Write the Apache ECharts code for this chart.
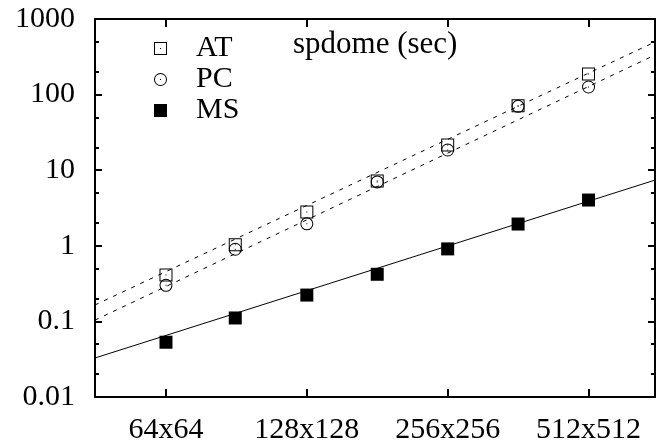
<!DOCTYPE html>
<html>
<head>
<meta charset="utf-8">
<script src="https://cdn.jsdelivr.net/npm/echarts@6/dist/echarts.min.js"></script>
<style>
  html, body { margin: 0; padding: 0; background: #fff; }
  #chart { width: 656px; height: 448px; }
</style>
</head>
<body>
<div id="chart"></div>
<script>
// grid side lengths of each run (x), run time in seconds (y)
const sides = [64, 90, 128, 181, 256, 362, 512];
const tickSides = [64, 128, 256, 512];
const atTimes = [0.41, 1.03, 2.8, 7.2, 21.5, 71, 187];
const pcTimes = [0.30, 0.90, 1.95, 7.0, 18.5, 70, 126];
const msTimes = [0.053, 0.111, 0.223, 0.42, 0.91, 1.94, 4.03];
// fitted lines: value at the left and right edge of the plot
const atFit = [0.165, 497];
const pcFit = [0.104, 334];
const msFit = [0.0328, 7.4];
const minorTicks = [0.02, 0.05, 0.2, 0.5, 2, 5, 20, 50, 200, 500];

const xMin = 5.496;
const xMax = 9.472;
const font = 'Liberation Serif';

const squareIcon = 'path://M0,0H13V13H0Z M1,1V12H12V1Z M6,6H7V7H6Z';
const circleIcon = 'path://M6.5,0A6.5,6.5,0,1,1,6.5,13A6.5,6.5,0,1,1,6.5,0Z M6.5,1A5.5,5.5,0,1,0,6.5,12A5.5,5.5,0,1,0,6.5,1Z M6,6H7V7H6Z';

const black = '#000';
const tickVals = tickSides.map(Math.log2);

function axisLine() {
  return { show: true, onZero: false, lineStyle: { color: black, width: 2 } };
}

function xAxis(position, showLabel) {
  return {
    type: 'value', position, min: xMin, max: xMax,
    axisLine: axisLine(),
    axisTick: { show: true, inside: true, length: 8, customValues: tickVals, lineStyle: { color: black, width: 2 } },
    axisLabel: {
      show: showLabel, customValues: tickVals, margin: 18,
      fontFamily: font, fontSize: 30, color: black,
      formatter: v => { const s = Math.round(Math.pow(2, v)); return s + 'x' + s; }
    },
    splitLine: { show: false }
  };
}

function yMajor(position, showLabel) {
  return {
    type: 'log', logBase: 10, position, min: 0.01, max: 1000,
    axisLine: axisLine(),
    axisTick: { show: true, inside: true, length: 7, lineStyle: { color: black, width: 2 } },
    axisLabel: {
      show: showLabel, margin: 20, fontFamily: font, fontSize: 30, color: black,
      formatter: v => String(v)
    },
    splitLine: { show: false }
  };
}

function yMinor(position) {
  return {
    type: 'value', position, min: -2, max: 3,
    axisLine: { show: false },
    axisTick: { show: true, inside: true, length: 4, customValues: minorTicks.map(Math.log10), lineStyle: { color: black, width: 2 } },
    axisLabel: { show: false },
    splitLine: { show: false }
  };
}

function points(name, vals, symbol) {
  return {
    name, type: 'scatter', z: 5,
    data: sides.map((s, i) => [Math.log2(s), vals[i]]),
    symbol, symbolSize: 13,
    itemStyle: { color: black, opacity: 1 }
  };
}

function fitLine(name, fit, dashed) {
  return {
    name, type: 'line', z: 3, silent: true,
    data: [[xMin, fit[0]], [xMax, fit[1]]],
    symbol: 'none',
    lineStyle: { color: black, width: 1, type: dashed ? [4, 6] : 'solid' }
  };
}

const chart = echarts.init(document.getElementById('chart'));
chart.setOption({
  animation: false,
  backgroundColor: '#fff',
  grid: { left: 95, right: 1, top: 19, bottom: 51 },
  title: {
    text: 'spdome (sec)', left: 288, top: 24,
    textStyle: { fontFamily: font, fontSize: 31, fontWeight: 'normal', color: black }
  },
  legend: {
    orient: 'vertical', left: 149, top: 28, itemGap: 0,
    itemWidth: 13, itemHeight: 13,
    data: ['AT', 'PC', 'MS'],
    itemStyle: { opacity: 1 },
    textStyle: { fontFamily: font, fontSize: 30, color: black, lineHeight: 31, padding: [0, 0, 0, 24] }
  },
  xAxis: [xAxis('bottom', true), xAxis('top', false)],
  yAxis: [yMajor('left', true), yMajor('right', false), yMinor('left'), yMinor('right')],
  series: [
    fitLine('AT fit', atFit, true),
    fitLine('PC fit', pcFit, true),
    fitLine('MS fit', msFit, false),
    points('AT', atTimes, squareIcon),
    points('PC', pcTimes, circleIcon),
    points('MS', msTimes, 'rect')
  ]
});
</script>
</body>
</html>
